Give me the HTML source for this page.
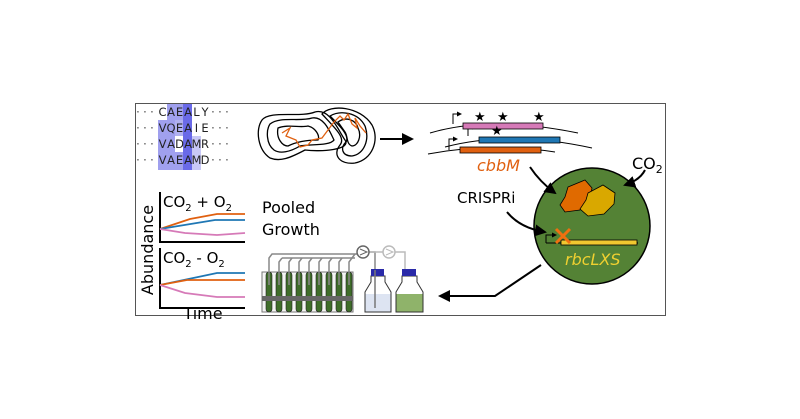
<!DOCTYPE html>
<html><head><meta charset="utf-8"><style>
html,body{margin:0;padding:0;background:#fff;}
svg{display:block;font-family:"DejaVu Sans","Liberation Sans",sans-serif;}
</style></head><body>
<svg width="800" height="419" viewBox="0 0 800 419" xmlns="http://www.w3.org/2000/svg">
<defs>
<marker id="ah2" markerWidth="12" markerHeight="12" refX="10" refY="6" orient="auto" markerUnits="userSpaceOnUse"><path d="M0,0 L12,6 L0,12 Z" fill="#000"/></marker>
<marker id="sm" markerWidth="5" markerHeight="5" refX="4" refY="2.5" orient="auto" markerUnits="userSpaceOnUse"><path d="M0,0 L5,2.5 L0,5 Z" fill="#000"/></marker>
</defs>
<rect x="135.5" y="103.5" width="530" height="212" fill="#fff" stroke="#555" stroke-width="1"/>
<!-- alignment highlights -->
<rect x="158" y="120" width="9" height="50" fill="#a0a0ee"/>
<rect x="167" y="104" width="8" height="66" fill="#a0a0ee"/>
<rect x="175" y="104" width="8" height="16" fill="#a0a0ee"/>
<rect x="175" y="120" width="8" height="16" fill="#b0b0f0"/>
<rect x="175" y="152" width="8" height="18" fill="#a0a0ee"/>
<rect x="183" y="104" width="9" height="66" fill="#6a6ae8"/>
<rect x="192" y="136" width="9" height="34" fill="#c8c8f6"/>
<g font-size="11.5" fill="#222" text-anchor="middle">
<g fill="#444"><text x="138" y="116">·</text><text x="145" y="116">·</text><text x="152" y="116">·</text><text x="213" y="116">·</text><text x="220" y="116">·</text><text x="227" y="116">·</text>
<text x="138" y="132">·</text><text x="145" y="132">·</text><text x="152" y="132">·</text><text x="213" y="132">·</text><text x="220" y="132">·</text><text x="227" y="132">·</text>
<text x="138" y="148">·</text><text x="145" y="148">·</text><text x="152" y="148">·</text><text x="213" y="148">·</text><text x="220" y="148">·</text><text x="227" y="148">·</text>
<text x="138" y="164">·</text><text x="145" y="164">·</text><text x="152" y="164">·</text><text x="213" y="164">·</text><text x="220" y="164">·</text><text x="227" y="164">·</text></g>
<text x="162.5" y="116">C</text><text x="171" y="116">A</text><text x="179.5" y="116">E</text><text x="188" y="116">A</text><text x="196.5" y="116">L</text><text x="205" y="116">Y</text>
<text x="162.5" y="132">V</text><text x="171" y="132">Q</text><text x="179.5" y="132">E</text><text x="188" y="132">A</text><text x="196.5" y="132">I</text><text x="205" y="132">E</text>
<text x="162.5" y="148">V</text><text x="171" y="148">A</text><text x="179.5" y="148">D</text><text x="188" y="148">A</text><text x="196.5" y="148">M</text><text x="205" y="148">R</text>
<text x="162.5" y="164">V</text><text x="171" y="164">A</text><text x="179.5" y="164">E</text><text x="188" y="164">A</text><text x="196.5" y="164">M</text><text x="205" y="164">D</text>
</g>
<!-- contours -->
<g fill="none" stroke="#000" stroke-width="1.3">
<path d="M262,120 C270,110 300,118 315,112 C330,108 338,130 345,140 C352,150 320,152 305,150 C290,158 280,162 270,158 C258,150 255,130 262,120Z"/>
<path d="M270,124 C280,116 300,122 312,118 C324,116 330,132 334,140 C330,146 310,144 300,146 C290,152 280,154 274,150 C266,144 266,130 270,124Z"/>
<path d="M278,128 C288,124 300,128 308,126 C316,128 320,136 318,140 C306,140 296,142 288,146 C282,146 276,138 278,128Z"/>
<path d="M322,114 C330,104 360,106 372,125 C380,140 372,160 355,163 C340,165 332,155 340,145 C346,138 335,128 322,114Z"/>
<path d="M330,116 C340,110 358,112 365,126 C370,140 364,154 352,156 C342,156 340,148 346,142 C350,136 340,126 330,116Z"/>
<path d="M338,122 C346,116 356,120 358,128 C362,136 358,146 352,146 C346,144 348,136 345,132 Z"/>
</g>
<path d="M282,133 L290,128 L286,136 L296,140 L300,147 L308,145 L312,140 L322,138 L328,130 L334,122 L340,116 L344,120 L348,114 L352,124 L357,128 L355,118 L360,126 L366,133" fill="none" stroke="#e06010" stroke-width="1.3"/>
<line x1="380" y1="139" x2="412" y2="139" stroke="#000" stroke-width="2" marker-end="url(#ah2)"/>
<!-- gene region -->
<g fill="none" stroke="#000" stroke-width="1">
<path d="M430,133 Q490,115 578,133"/>
<path d="M445,147 Q510,130 592,148"/>
<path d="M428,154 Q490,142 555,152"/>
<path d="M453,124 V114 H461" marker-end="url(#sm)"/><path d="M468,136 V127 H476" marker-end="url(#sm)"/><path d="M449,150 V139 H457" marker-end="url(#sm)"/>
</g>
<rect x="463" y="123" width="80" height="6" fill="#d67ab8" stroke="#000" stroke-width="0.8"/>
<rect x="479" y="137" width="81" height="6" fill="#1f77b4" stroke="#000" stroke-width="0.8"/>
<rect x="460" y="147" width="81" height="6" fill="#e06010" stroke="#000" stroke-width="0.8"/>
<g font-size="13" fill="#000"><text x="474" y="121">★</text><text x="497" y="121">★</text><text x="533" y="121">★</text><text x="491" y="135">★</text></g>
<text x="477" y="171" font-size="16" font-style="italic" fill="#e06010">cbbM</text>
<!-- cell -->
<circle cx="592" cy="226" r="58" fill="#548235" stroke="#000" stroke-width="1.5"/>
<path d="M568,187 L585,180 L592,188 L590,200 L580,210 L565,212 L560,205 L565,197 Z" fill="#e06a00" stroke="#000" stroke-width="0.8"/>
<path d="M588,193 L603,185 L615,193 L614,204 L604,214 L588,216 L580,209 L586,200 Z" fill="#d9a800" stroke="#000" stroke-width="0.8"/>
<line x1="546" y1="243" x2="638" y2="243" stroke="#000" stroke-width="1"/>
<rect x="561" y="240" width="76" height="5" fill="#f0c830" stroke="#000" stroke-width="0.8"/>
<path d="M546,243 V235 H556" fill="none" stroke="#000" stroke-width="1" marker-end="url(#sm)"/>
<path d="M556,229 L570,243 M570,229 L556,243" stroke="#f07010" stroke-width="3"/>
<text x="565" y="265" font-size="16" font-style="italic" fill="#f0d030">rbcLXS</text>
<text x="632" y="169" font-size="16">CO<tspan font-size="11" dy="4">2</tspan></text>
<text x="457" y="203" font-size="15">CRISPRi</text>
<path d="M530,167 Q540,182 555,193" fill="none" stroke="#000" stroke-width="2" marker-end="url(#ah2)"/>
<path d="M645,170 Q640,180 625,185" fill="none" stroke="#000" stroke-width="2" marker-end="url(#ah2)"/>
<path d="M507,212 Q520,228 545,232" fill="none" stroke="#000" stroke-width="2" marker-end="url(#ah2)"/>
<path d="M541,265 L495,296 L440,296" fill="none" stroke="#000" stroke-width="2" marker-end="url(#ah2)"/>
<!-- charts -->
<g stroke="#000" stroke-width="2" fill="none"><path d="M160,192 V242 H245"/><path d="M160,248 V308 H245"/></g>
<text x="163" y="207" font-size="15">CO<tspan font-size="10" dy="4">2</tspan><tspan dy="-4"> + O</tspan><tspan font-size="10" dy="4">2</tspan></text>
<text x="163" y="263" font-size="15">CO<tspan font-size="10" dy="4">2</tspan><tspan dy="-4"> - O</tspan><tspan font-size="10" dy="4">2</tspan></text>
<g fill="none" stroke-width="1.8">
<path d="M160,229 L190,219 L217,214 L245,214" stroke="#e06010"/>
<path d="M160,229 L215,220 L245,220" stroke="#1f77b4"/>
<path d="M160,229 L185,233 L217,235 L245,233" stroke="#d67ab8"/>
<path d="M160,285 L217,273 L245,273" stroke="#1f77b4"/>
<path d="M160,285 L187,280 L217,280 L245,280" stroke="#e06010"/>
<path d="M160,285 L185,293 L217,297 L245,297" stroke="#d67ab8"/>
</g>
<text x="153" y="250" font-size="16" transform="rotate(-90 153 250)" text-anchor="middle">Abundance</text>
<text x="203" y="319" font-size="16" text-anchor="middle">Time</text>
<text x="262" y="213" font-size="16">Pooled</text>
<text x="262" y="235" font-size="16">Growth</text>
<!-- rack -->
<rect x="262" y="272" width="91" height="40" fill="#f4f4f4" stroke="#777" stroke-width="1"/>
<g>
<rect x="266" y="272" width="6" height="40" rx="3" fill="#3f6d2a" stroke="#222" stroke-width="0.6"/>
<rect x="276" y="272" width="6" height="40" rx="3" fill="#3f6d2a" stroke="#222" stroke-width="0.6"/>
<rect x="286" y="272" width="6" height="40" rx="3" fill="#3f6d2a" stroke="#222" stroke-width="0.6"/>
<rect x="296" y="272" width="6" height="40" rx="3" fill="#3f6d2a" stroke="#222" stroke-width="0.6"/>
<rect x="306" y="272" width="6" height="40" rx="3" fill="#3f6d2a" stroke="#222" stroke-width="0.6"/>
<rect x="316" y="272" width="6" height="40" rx="3" fill="#3f6d2a" stroke="#222" stroke-width="0.6"/>
<rect x="326" y="272" width="6" height="40" rx="3" fill="#3f6d2a" stroke="#222" stroke-width="0.6"/>
<rect x="336" y="272" width="6" height="40" rx="3" fill="#3f6d2a" stroke="#222" stroke-width="0.6"/>
<rect x="346" y="272" width="6" height="40" rx="3" fill="#3f6d2a" stroke="#222" stroke-width="0.6"/>
</g>
<rect x="262" y="296" width="91" height="5" fill="#666"/>
<g fill="none" stroke="#888" stroke-width="1.5">
<path d="M269,285 V258 L272,254 H357"/>
<path d="M279,285 V262 L282,258"/><path d="M289,285 V262 L292,258"/><path d="M299,285 V262 L302,258"/>
<path d="M309,285 V262 L312,258"/><path d="M319,285 V262 L322,258"/><path d="M329,285 V262 L332,258"/>
<path d="M339,285 V262 L342,258"/><path d="M349,285 V262 L352,258 L355,254"/>
<path d="M369,252 H375 V308"/>
</g>
<path d="M282,258 H355" stroke="#888" stroke-width="1.5"/>
<path d="M395,252 H405 V300" fill="none" stroke="#bbb" stroke-width="1.5"/>
<path d="M369,252 H383" stroke="#bbb" stroke-width="1.5"/>
<circle cx="363" cy="252" r="6" fill="#fff" stroke="#666" stroke-width="1.5"/>
<path d="M360,249 L367,252 L360,255" fill="none" stroke="#666" stroke-width="1"/>
<circle cx="389" cy="252" r="6" fill="#fff" stroke="#bbb" stroke-width="1.5"/>
<path d="M386,249 L393,252 L386,255" fill="none" stroke="#bbb" stroke-width="1"/>
<!-- bottles -->
<path d="M371,276 V282 L365,292 V312 H391 V292 L385,282 V276 Z" fill="#fff" stroke="#333" stroke-width="1"/>
<path d="M365.5,294 H390.5 V311.5 H365.5 Z" fill="#dde4f2"/>
<rect x="371" y="269" width="13" height="7" fill="#2a2aa8"/>
<path d="M375,270 V308" stroke="#777" stroke-width="1.5"/>
<path d="M402,276 V282 L396,292 V312 H423 V292 L417,282 V276 Z" fill="#fff" stroke="#333" stroke-width="1"/>
<path d="M396.5,294 H422.5 V311.5 H396.5 Z" fill="#8fb36a"/>
<rect x="402" y="269" width="14" height="7" fill="#2a2aa8"/>
</svg>
</body></html>
